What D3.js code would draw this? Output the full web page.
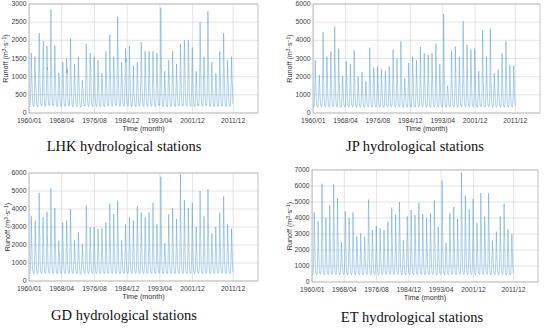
<!DOCTYPE html>
<html>
<head>
<meta charset="utf-8">
<script src="https://cdn.jsdelivr.net/npm/d3@7"></script>
<style>
body{margin:0;background:#fff;}
svg text{font-family:"Liberation Sans",Arial,sans-serif;}
</style>
</head>
<body>
<svg id="fig" width="550" height="328"></svg>
<script>
// x軸の目盛 (月の通し番号) とラベル
var tickMonths = [1, 100, 200, 300, 400, 500, 624];
var tickLabels = ["1960/01","1968/04","1976/08","1984/12","1993/04","2001/12","2011/12"];

// 月流量 (m3/s) 1960-2011, 1行=1年 (1月〜12月)
var lhk = [
[200,180,190,290,560,980,1650,1240,900,560,350,230],
[210,180,200,300,600,1550,1100,1020,760,520,330,220],
[200,170,190,310,640,1200,2200,1500,1050,600,360,240],
[220,190,200,280,580,1100,1600,1980,1200,640,370,240],
[210,180,190,300,620,1050,1850,1200,1250,580,340,230],
[230,200,210,330,700,1300,2850,1400,1250,700,400,260],
[220,190,200,300,600,1100,1850,1350,950,560,350,230],
[200,170,180,260,480,800,1100,1000,880,460,310,210],
[200,180,190,280,520,900,1400,1380,950,520,330,220],
[210,180,190,290,560,1000,1500,1100,1200,540,340,220],
[220,190,200,300,620,1200,2050,1500,980,580,350,230],
[200,170,180,270,500,850,1350,1000,720,480,310,210],
[200,170,190,280,560,950,1550,1150,820,500,320,210],
[180,160,170,240,420,650,900,760,680,420,290,200],
[210,190,200,300,620,1400,1900,1500,1000,560,340,230],
[210,180,190,290,580,1000,1650,1300,1150,540,330,220],
[200,180,190,280,560,1100,1550,1200,1050,520,330,220],
[200,170,180,280,540,900,1450,1100,800,500,320,210],
[190,170,180,260,480,760,1100,880,700,460,300,200],
[210,180,190,290,580,1050,1700,1300,900,540,340,220],
[220,190,200,310,640,1250,2150,1600,1100,600,360,240],
[210,180,190,290,560,1150,1550,1200,1000,520,330,220],
[230,200,210,320,680,1400,2650,1700,1200,650,380,250],
[200,180,190,280,540,950,1400,1050,800,500,320,210],
[210,180,190,290,580,1100,1780,1400,1500,560,350,230],
[210,190,200,300,600,1150,1850,1300,950,560,350,230],
[200,170,180,270,480,700,1300,900,520,460,300,200],
[200,170,180,280,520,900,1400,1050,820,500,320,210],
[220,190,200,300,620,1200,1950,1500,1050,580,350,230],
[210,180,190,290,580,1050,1700,1250,900,540,340,220],
[210,180,190,290,580,1100,1700,1300,950,540,340,220],
[210,180,190,290,560,1000,1700,1200,880,520,330,220],
[200,180,190,280,560,1000,1650,1150,820,520,330,220],
[230,200,210,330,700,1400,2900,1800,1200,660,380,250],
[200,170,180,260,480,800,1150,750,620,450,300,200],
[200,170,180,280,540,950,1450,1100,820,500,320,210],
[210,180,190,290,580,1050,1700,1300,900,540,340,220],
[200,170,180,270,500,850,1350,1000,760,480,310,210],
[210,190,200,300,620,1200,1900,1500,1000,560,350,230],
[220,190,200,300,620,1250,2000,1600,1050,580,350,230],
[220,190,200,300,620,1200,2000,1700,1100,580,350,230],
[210,180,190,290,600,1100,1800,1400,1000,560,340,220],
[200,170,180,260,480,760,1150,900,700,460,300,200],
[230,200,210,320,680,1300,2500,1800,1200,640,370,240],
[210,180,190,280,560,1300,1550,1250,950,520,330,220],
[230,200,210,330,700,1400,2800,1700,1150,660,380,250],
[200,170,180,270,520,900,1400,1050,780,500,320,210],
[190,170,180,260,480,760,1100,1000,700,460,300,200],
[210,180,190,290,580,1050,1700,1250,900,540,340,220],
[220,190,200,310,640,1250,2200,1500,1050,600,360,240],
[200,170,180,280,540,950,1450,1100,900,500,320,210],
[200,180,190,280,560,1000,1550,1100,800,700,400,250]
];
var jp = [
[350,320,330,450,900,1600,2900,2100,1500,900,550,400],
[360,320,340,460,950,1400,2100,1900,1300,850,540,400],
[370,330,340,480,1000,2200,4450,2800,1800,1000,600,420],
[360,330,340,460,950,1700,3100,2200,1500,900,560,400],
[360,330,340,470,980,1800,3400,2400,1600,920,560,400],
[380,340,350,500,1050,2400,4750,2900,2000,1050,620,430],
[370,330,340,480,1000,1900,3550,2500,1700,950,580,410],
[340,310,320,430,850,1300,2050,1700,1200,800,520,380],
[350,320,330,450,900,1500,2850,2000,1400,880,540,390],
[350,320,330,450,900,1500,2700,2200,1400,860,540,390],
[360,330,340,470,980,1800,3450,2400,1600,920,560,400],
[340,310,320,430,850,1250,2000,1600,1150,780,510,380],
[340,310,320,440,880,1350,2250,1700,1200,800,520,380],
[330,300,310,420,800,1150,1750,1400,1050,740,500,370],
[360,330,340,470,980,1900,3600,2500,1700,940,570,400],
[350,320,330,450,920,1500,2500,2300,2000,860,540,390],
[350,320,330,450,920,1450,2550,2000,1400,860,540,390],
[350,320,330,440,900,1400,2400,1900,1350,840,530,390],
[340,310,320,440,880,1350,2300,1800,1300,820,520,380],
[350,320,330,450,920,1500,2600,2000,1400,860,540,390],
[360,330,340,470,980,1850,3500,2400,1650,930,560,400],
[360,320,330,460,950,1650,3000,2200,1550,900,550,400],
[370,330,340,480,1000,2000,3950,2600,1800,960,580,410],
[340,310,320,430,850,1250,1900,1550,1150,780,510,380],
[350,320,330,450,920,1500,2750,2100,1450,870,540,390],
[360,320,330,460,950,1700,3100,2300,2200,900,550,400],
[350,320,330,450,920,1600,2900,2100,1500,880,540,390],
[360,330,340,470,980,1900,3650,2600,1700,940,570,400],
[360,330,340,460,960,1800,3300,2400,1650,920,560,400],
[360,320,330,460,950,1750,3200,2900,1600,910,560,400],
[360,320,330,460,950,1800,3300,2400,1650,920,560,400],
[370,330,340,470,980,2000,3800,2700,1800,950,570,410],
[350,320,330,450,920,1500,2700,2000,1450,870,540,390],
[380,340,350,500,1050,2600,5450,3200,2100,1100,640,440],
[330,300,310,420,800,1100,1500,1400,1100,740,500,370],
[360,330,340,470,980,1850,3400,2400,1650,930,560,400],
[360,330,340,470,980,1900,3650,2500,1700,940,570,400],
[360,320,330,460,950,1700,3100,2300,1550,900,550,400],
[380,340,350,500,1050,2500,5050,3000,2000,1050,620,430],
[370,330,340,470,980,2000,3750,2600,1750,950,570,410],
[360,330,340,470,980,1900,3500,2500,1700,930,560,400],
[360,330,340,470,980,1900,3550,2500,1700,930,560,400],
[340,310,320,440,880,1350,2300,1800,1300,820,520,380],
[370,340,350,490,1020,2300,4550,2800,1900,1000,600,420],
[360,320,330,460,950,1700,3100,2300,1550,900,550,400],
[370,340,350,490,1020,2400,4650,2900,1950,1000,610,420],
[340,310,320,430,860,1300,2200,1700,1250,800,520,380],
[340,310,320,440,880,1400,2400,1800,1300,820,520,380],
[360,320,330,460,950,1800,3300,2400,1600,910,560,400],
[370,330,340,480,1000,2100,3950,2700,1800,960,580,410],
[350,320,330,450,920,1500,2650,2000,1400,860,540,390],
[350,320,330,450,920,1500,2600,1900,1350,860,540,390]
];
var gd = [
[450,410,420,560,1100,2000,3600,2500,1800,1000,650,490],
[450,410,420,560,1100,1900,3350,2400,1700,980,640,490],
[470,420,430,580,1200,2600,4900,3300,2300,1100,680,510],
[450,410,420,560,1100,2000,3550,2500,1800,1000,650,490],
[460,420,430,570,1150,2100,3850,2700,1900,1020,660,500],
[470,430,440,590,1200,2700,5150,3400,2400,1120,690,510],
[460,420,430,570,1150,2200,4050,2800,1950,1030,660,500],
[430,400,410,530,1000,1400,2250,1800,1350,900,620,470],
[450,410,420,560,1100,1850,3250,2300,1650,970,640,490],
[450,410,420,560,1100,1900,3350,2700,1700,980,640,490],
[460,420,430,570,1150,2200,4000,2800,1950,1030,660,500],
[430,400,410,530,1000,1400,2250,1800,1350,900,620,470],
[440,400,410,540,1050,1600,2700,2000,1500,930,630,480],
[430,390,400,520,980,1300,2050,1700,1300,880,610,470],
[460,420,430,570,1150,2300,4200,3600,2000,1040,660,500],
[450,410,420,550,1080,1750,3000,2200,1600,950,640,480],
[450,410,420,550,1080,1750,3000,2200,1600,950,640,480],
[440,410,420,550,1070,1700,2900,2150,1550,950,630,480],
[440,410,420,550,1070,1700,2950,2150,1550,950,630,480],
[450,410,420,560,1100,1850,3250,2300,1650,970,640,490],
[460,420,430,570,1150,2300,4300,2900,2000,1040,660,500],
[450,410,420,560,1100,2050,3700,2600,1850,1000,650,490],
[460,420,430,580,1160,2400,4450,3000,2100,1060,670,500],
[430,400,410,530,1000,1400,2250,1800,1350,900,620,470],
[450,410,420,560,1100,1800,3150,2300,1650,960,640,490],
[450,410,420,560,1100,2000,3550,2500,1800,1000,650,490],
[450,410,420,560,1100,1900,3350,2400,1700,980,640,490],
[460,420,430,570,1150,2250,4150,2850,2000,1040,660,500],
[450,410,420,560,1120,2100,3800,2650,1900,1010,650,490],
[450,410,420,560,1100,2000,3550,2500,1800,1000,650,490],
[450,410,420,560,1120,2100,3800,2650,1900,1010,650,490],
[460,420,430,570,1150,2350,4350,2950,2050,1050,670,500],
[450,410,420,560,1100,1800,3150,2300,1650,960,640,490],
[480,430,440,600,1250,3000,5800,3700,2500,1150,700,520],
[430,400,410,520,980,1350,2100,1750,1300,880,610,470],
[450,410,420,560,1100,2050,3700,2600,1850,1000,650,490],
[460,420,430,570,1150,2200,4050,2800,1950,1030,660,500],
[450,410,420,560,1100,1950,3450,2450,1750,990,640,490],
[480,430,440,600,1250,3000,5900,3700,2500,1150,700,520],
[460,420,430,580,1160,2400,4500,3100,2100,1060,670,500],
[460,420,430,570,1150,2200,4050,2800,1950,1030,660,500],
[460,420,430,570,1150,2350,4350,2950,2050,1050,670,500],
[450,410,420,550,1080,1750,3000,2200,1600,950,640,480],
[470,430,440,590,1200,2600,5000,3300,2300,1110,690,510],
[450,410,420,560,1100,2000,3600,2500,1800,1000,650,490],
[470,430,440,590,1200,2700,5100,3400,2350,1120,690,510],
[440,400,410,540,1050,1550,2650,2000,1500,930,630,480],
[450,410,420,550,1080,1750,3000,2200,1600,950,640,480],
[450,410,420,560,1120,2100,3800,2650,1900,1010,650,490],
[470,420,430,580,1180,2500,4700,3200,2200,1080,680,510],
[450,410,420,560,1100,1800,3150,2300,1650,960,640,490],
[440,410,420,550,1070,1700,2900,2150,1550,950,630,480]
];
var et = [
[500,460,470,620,1250,2400,4350,3000,2200,1150,750,560],
[500,460,470,610,1200,2100,3800,2700,1900,1100,740,550],
[520,480,490,650,1400,3300,6150,4100,2800,1300,800,580],
[500,460,470,610,1220,2200,4000,2800,2000,1120,740,550],
[510,470,480,630,1300,2600,4800,3300,2300,1200,760,560],
[520,480,490,650,1400,3300,6100,4100,2800,1300,800,580],
[510,470,480,640,1350,2800,5200,3500,2500,1220,770,570],
[480,440,450,580,1100,1600,2500,2000,1500,1000,710,530],
[500,460,470,620,1260,2400,4400,4000,2200,1160,750,560],
[500,460,470,610,1220,2200,4000,2800,2000,1120,740,550],
[500,460,470,620,1250,2400,4350,3000,2200,1150,750,560],
[490,450,460,590,1150,1800,2850,2200,1600,1040,720,540],
[490,450,460,590,1150,1900,3050,2300,1650,1050,720,540],
[490,450,460,590,1150,1800,2850,2200,1600,1040,720,540],
[510,470,480,640,1350,2800,5150,4700,2500,1220,770,570],
[490,450,460,600,1170,2000,3250,2400,1700,1070,730,540],
[490,450,460,600,1180,2000,3500,2500,1800,1080,730,540],
[490,450,460,600,1170,2000,3350,2400,1750,1070,730,540],
[490,450,460,600,1170,2000,3250,2400,1700,1070,730,540],
[500,460,470,610,1200,2100,3750,2650,1900,1100,740,550],
[510,470,480,630,1300,2500,4650,3200,2300,1190,760,560],
[500,460,470,620,1250,2300,4200,2900,2100,1140,750,550],
[510,470,480,640,1330,2700,5000,3400,2450,1210,770,570],
[480,440,450,580,1120,1700,2600,2050,1550,1010,710,530],
[500,460,470,620,1230,2250,4100,2850,2050,1130,740,550],
[510,470,480,630,1280,2450,4500,3100,2200,1170,750,560],
[500,460,470,620,1250,2300,4200,2900,2100,1140,750,550],
[510,470,480,640,1330,2700,4950,3400,2450,1210,770,570],
[500,460,470,620,1250,2300,4250,2950,2100,1150,750,550],
[500,460,470,610,1220,2200,4000,2800,2000,1120,740,550],
[500,460,470,620,1250,2350,4300,3000,2150,1150,750,560],
[510,470,480,640,1340,2750,5100,3500,2500,1220,770,570],
[490,450,460,600,1180,2000,3450,2500,1750,1080,730,540],
[520,480,490,660,1420,3400,6350,4200,2900,1320,800,580],
[480,440,450,580,1100,1800,2450,2200,1900,1000,710,530],
[500,460,470,620,1250,2350,4300,3000,2150,1150,750,560],
[510,470,480,630,1300,2550,4700,3250,2300,1190,760,560],
[500,460,470,610,1210,2200,3950,2750,1950,1110,740,550],
[530,490,500,670,1450,3600,6850,4500,3000,1350,810,590],
[510,470,480,640,1350,3600,5400,3700,2600,1240,780,570],
[510,470,480,630,1280,2500,4550,3150,2250,1180,760,560],
[510,470,480,640,1340,2800,5200,3500,2500,1220,770,570],
[500,460,470,610,1200,2050,3700,2600,1850,1100,740,550],
[520,480,490,650,1380,3000,5550,3800,2700,1260,780,570],
[500,460,470,620,1230,2250,4100,2850,2050,1130,740,550],
[520,480,490,650,1380,3000,5550,3800,2700,1260,780,570],
[480,440,450,580,1120,1700,2600,2000,1600,1010,710,530],
[490,450,460,600,1170,1900,3150,2350,1700,1060,720,540],
[500,460,470,620,1230,2250,4100,2850,2050,1130,740,550],
[510,470,480,640,1330,2650,4900,3350,2400,1200,770,570],
[490,450,460,600,1180,2000,3300,2450,1750,1070,730,540],
[490,450,460,600,1160,1850,3000,2250,1650,1050,720,540]
];

// 各パネルの配置
var panels = [
	{data: lhk, left: 29, right: 258, top: 4, bottom: 113, ymax: 3000, ystep: 500,
	 caption: "LHK hydrological stations", capX: 124, capY: 151, yTitleX: 8},
	{data: jp, left: 313, right: 540, top: 4, bottom: 113, ymax: 6000, ystep: 1000,
	 caption: "JP hydrological stations", capX: 415, capY: 151, yTitleX: 292},
	{data: gd, left: 29, right: 258, top: 173, bottom: 281, ymax: 6000, ystep: 1000,
	 caption: "GD hydrological stations", capX: 124, capY: 320, yTitleX: 10},
	{data: et, left: 312, right: 538, top: 170, bottom: 282, ymax: 7000, ystep: 1000,
	 caption: "ET hydrological stations", capX: 412, capY: 322, yTitleX: 292}
];

var svg = d3.select("#fig");
svg.append("rect").attr("width", 550).attr("height", 328).attr("fill", "#fff");

panels.forEach(function(p){
	var series = d3.merge(p.data).map(function(v, i){ return {m: i + 1, v: v}; });
	var x = d3.scaleLinear().domain([0, 700]).range([p.left, p.right]);
	var y = d3.scaleLinear().domain([0, p.ymax]).range([p.bottom, p.top]);
	var yTicks = d3.range(0, p.ymax + 1, p.ystep);
	var g = svg.append("g");

	// グリッド線
	g.selectAll(".gx").data(tickMonths).enter().append("line")
		.attr("x1", function(d){ return x(d); }).attr("x2", function(d){ return x(d); })
		.attr("y1", p.top).attr("y2", p.bottom)
		.attr("stroke", "#d4d4d4").attr("stroke-width", 0.6);
	g.selectAll(".gy").data(yTicks).enter().append("line")
		.attr("x1", p.left).attr("x2", p.right)
		.attr("y1", function(d){ return y(d); }).attr("y2", function(d){ return y(d); })
		.attr("stroke", "#d4d4d4").attr("stroke-width", 0.6);

	// 流量の折れ線
	var line = d3.line()
		.x(function(d){ return x(d.m); })
		.y(function(d){ return y(d.v); });
	g.append("path")
		.datum(series)
		.attr("fill", "none")
		.attr("stroke", "#2f86c8")
		.attr("stroke-width", 0.45)
		.attr("stroke-opacity", 0.85)
		.attr("d", line);

	// 枠
	g.append("rect")
		.attr("x", p.left).attr("y", p.top)
		.attr("width", p.right - p.left).attr("height", p.bottom - p.top)
		.attr("fill", "none").attr("stroke", "#a8a8a8").attr("stroke-width", 0.7);

	// 目盛ラベル (0 と 1960/01 が重ならないよう少し離す)
	g.selectAll(".ty").data(yTicks).enter().append("text")
		.attr("x", p.left - 2.5).attr("y", function(d){ return y(d) + 2; })
		.attr("text-anchor", "end").attr("font-size", 6.8).attr("fill", "#404040")
		.text(function(d){ return d; });
	g.selectAll(".tx").data(tickMonths).enter().append("text")
		.attr("x", function(d){ return x(d); }).attr("y", p.bottom + 9.7)
		.attr("text-anchor", "middle").attr("font-size", 6.8).attr("fill", "#404040")
		.text(function(d, i){ return tickLabels[i]; });

	// 軸タイトル
	g.append("text")
		.attr("x", (p.left + p.right) / 2).attr("y", p.bottom + 17.5)
		.attr("text-anchor", "middle").attr("font-size", 7.2).attr("fill", "#303030")
		.text("Time (month)");
	var yt = g.append("text")
		.attr("transform", "translate(" + p.yTitleX + "," + ((p.top + p.bottom) / 2) + ") rotate(-90)")
		.attr("text-anchor", "middle").attr("font-size", 7.2).attr("fill", "#303030");
	yt.append("tspan").text("Runoff (m");
	yt.append("tspan").attr("font-size", 5).attr("dy", -2.5).text("3");
	yt.append("tspan").attr("dy", 2.5).text("·s");
	yt.append("tspan").attr("font-size", 5).attr("dy", -2.5).text("−1");
	yt.append("tspan").attr("dy", 2.5).text(")");

	// キャプション
	svg.append("text")
		.attr("x", p.capX).attr("y", p.capY)
		.attr("text-anchor", "middle")
		.style("font-family", "'Liberation Serif','Times New Roman',serif")
		.attr("font-size", 14.5).attr("fill", "#111")
		.text(p.caption);
});
</script>
</body>
</html>
